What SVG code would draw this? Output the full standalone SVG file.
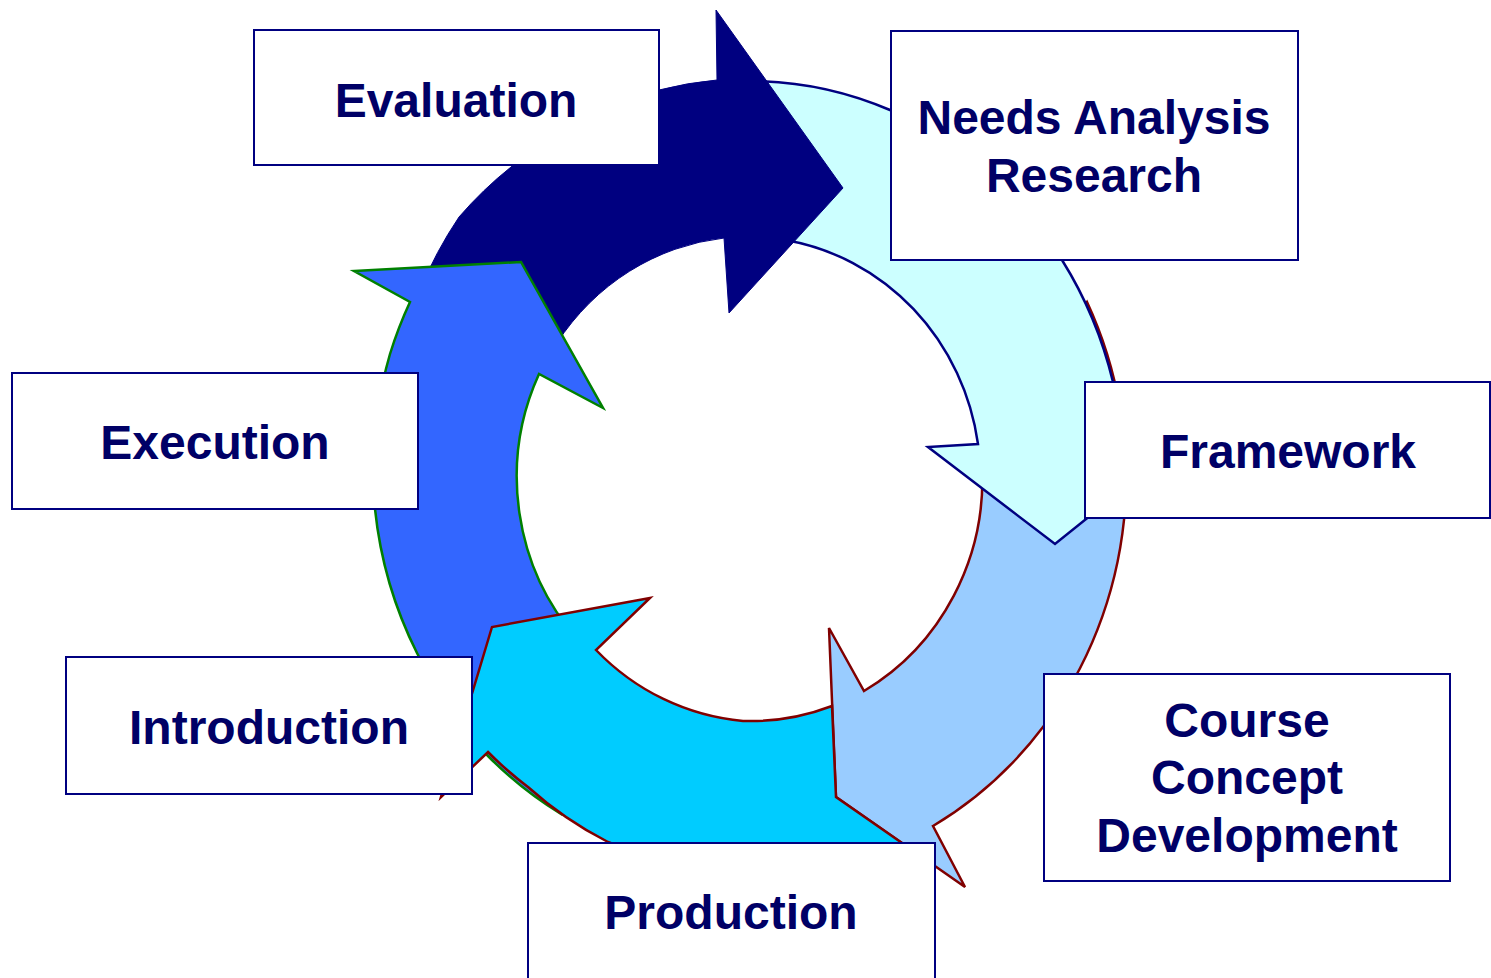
<svg xmlns="http://www.w3.org/2000/svg" width="1491" height="978" viewBox="0 0 1491 978">
<style>
.box{fill:#ffffff;stroke:#000080;stroke-width:2}
.lbl{font-family:"Liberation Sans",Arial,sans-serif;font-weight:bold;font-size:48px;fill:#000066;text-anchor:middle}
.arr{stroke-width:2.5;stroke-linejoin:miter}
</style>
<rect x="0" y="0" width="1491" height="978" fill="#ffffff"/>
<g id="connectors">
<path id="arrow-course" class="arr" fill="#99CCFF" stroke="#800000" d="M 1087,302 A 377 400 0 0 1 1124,520 A 377 400 0 0 1 1043,727 A 377 400 0 0 1 933,826 L 965,887 L 836,797 L 829,628 L 864,691 A 235 244 0 0 0 982,466 Z"/>
<path id="arrow-needs" class="arr" fill="#CCFFFF" stroke="#000080" d="M 755,81 A 374 397 0 0 1 890,110 A 374 397 0 0 1 1062,260 A 374 397 0 0 1 1113,382 A 374 397 0 0 1 1120,424 L 1172,450 L 1055,544 L 928,447 L 978,444 A 233 242 0 0 0 785,240 Z"/>
<path id="arrow-eval" fill="#000080" stroke="#000080" stroke-width="1" d="M 420,290 A 378 401 0 0 1 459,217 A 378 401 0 0 1 511,167 A 378 401 0 0 1 659,90 A 378 401 0 0 1 717,80 L 716,10 L 843,188 L 729,313 L 724,238 A 232 241 0 0 0 557,343 Z"/>
<path id="arrow-exec" class="arr" fill="#3366FF" stroke="#008000" d="M 561,814 A 376 399 0 0 1 488,756 A 376 399 0 0 1 417,653 A 376 399 0 0 1 375,509 A 376 399 0 0 1 390,354 A 376 399 0 0 1 410,302 L 354,271 L 521,262 L 603,408 L 539,374 A 232 241 0 0 0 578,640 Z"/>
<path id="arrow-prod" class="arr" fill="#00CCFF" stroke="#800000" d="M 912,850 L 878,852 A 370 392 0 0 1 750,870 A 370 392 0 0 1 608,842 A 370 392 0 0 1 528,787 A 370 392 0 0 1 488,752 L 441,797 L 492,627 L 650,598 L 596,650 A 236 244 0 0 0 743,721 A 236 244 0 0 0 832,706 L 836,797 L 902,843 Z"/>
</g>
<g id="node-evaluation">
<rect class="box" x="254" y="30" width="405" height="135"/>
<text class="lbl" x="456" y="117">Evaluation</text>
</g>
<g id="node-needs">
<rect class="box" x="891" y="31" width="407" height="229"/>
<text class="lbl" x="1094" y="134">Needs Analysis</text>
<text class="lbl" x="1094" y="192">Research</text>
</g>
<g id="node-framework">
<rect class="box" x="1085" y="382" width="405" height="136"/>
<text class="lbl" x="1288" y="468">Framework</text>
</g>
<g id="node-course">
<rect class="box" x="1044" y="674" width="406" height="207"/>
<text class="lbl" x="1247" y="737">Course</text>
<text class="lbl" x="1247" y="794">Concept</text>
<text class="lbl" x="1247" y="852">Development</text>
</g>
<g id="node-production">
<rect class="box" x="528" y="843" width="407" height="145"/>
<text class="lbl" x="731" y="929">Production</text>
</g>
<g id="node-introduction">
<rect class="box" x="66" y="657" width="406" height="137"/>
<text class="lbl" x="269" y="744">Introduction</text>
</g>
<g id="node-execution">
<rect class="box" x="12" y="373" width="406" height="136"/>
<text class="lbl" x="215" y="459">Execution</text>
</g>
</svg>
